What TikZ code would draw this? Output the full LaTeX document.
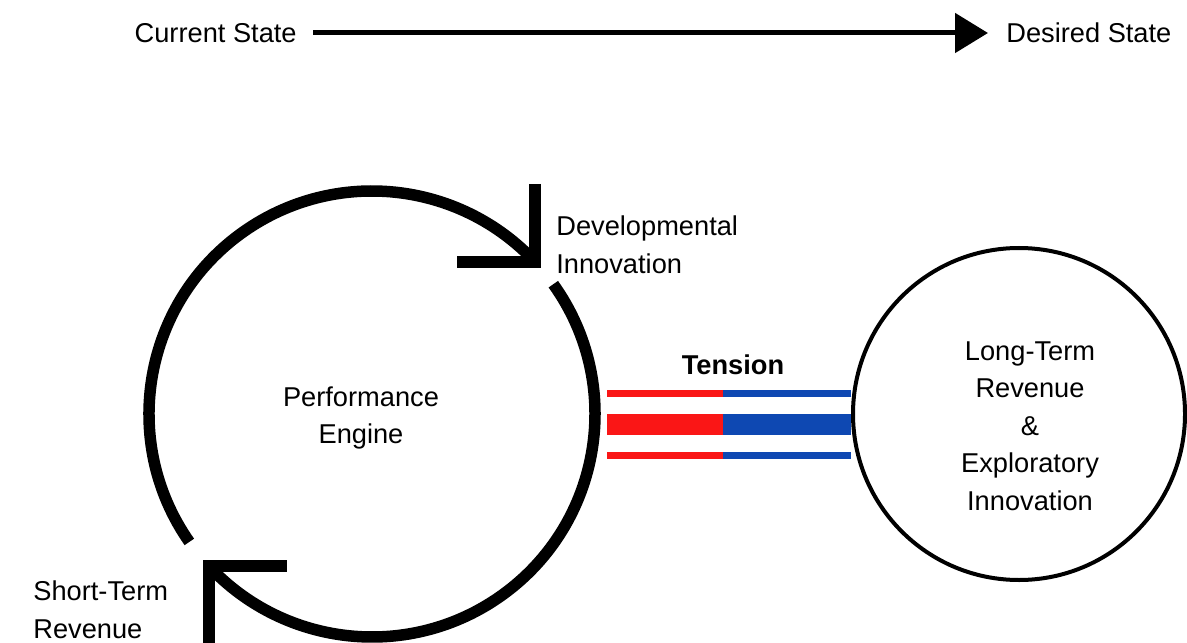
\documentclass[tikz,border=0pt]{standalone}
\usepackage{fontspec}
\setmainfont{Liberation Sans}
\usetikzlibrary{arrows.meta, positioning, calc}
\definecolor{tensionRed}{RGB}{250, 22, 22}
\definecolor{tensionBlue}{RGB}{14, 72, 178}
\tikzset{
  plainLabel/.style={
    inner sep=0pt,
    font=\fontsize{15.5}{21.5}\selectfont
  },
  stateArrow/.style={
    -{Triangle[length=0.66cm, width=0.78cm]},
    line width=0.1cm,
    draw=black
  },
  ringArc/.style={
    draw=black,
    line width=0.23cm,
    line cap=butt
  },
  ringHead/.style={
    draw=black,
    line width=0.23cm,
    line join=miter,
    line cap=butt
  },
  goalCircle/.style={
    draw=black,
    circle,
    line width=0.08cm,
    minimum size=6.64cm,
    inner sep=0pt
  }
}

\begin{document}
\begin{tikzpicture}
  \useasboundingbox (0,0) rectangle (23.74,12.84);
  % Direction of change
  \node[plainLabel, anchor=east, inner xsep=0.32cm] (current) at (6.26,12.18) {Current State};
  \node[plainLabel, anchor=west, inner xsep=0.36cm] (desired) at (19.76,12.18) {Desired State};
  \draw[stateArrow] (current) -- (desired);

  % Performance engine loop
  \coordinate (hub) at (7.44,4.56);
  \draw[ringArc] ($(hub)+(215:4.46)$) arc[start angle=215, end angle=43, radius=4.46] coordinate (devCorner);
  \draw[ringArc] ($(hub)+(35.6:4.46)$) arc[start angle=35.6, end angle=-137, radius=4.46] coordinate (shortCorner);
  \draw[ringHead] ([yshift=1.56cm]devCorner) -- (devCorner) -- ([xshift=-1.56cm]devCorner);
  \draw[ringHead] ([xshift=1.56cm]shortCorner) -- (shortCorner) -- ([yshift=-1.7cm]shortCorner);
  \node[plainLabel, align=center] (engine) at (7.22,4.48) {Performance\\Engine};
  \node[plainLabel, align=left, anchor=west] (devInno) at (11.12,7.94) {Developmental\\Innovation};
  \node[plainLabel, align=left, anchor=west] (shortRev) at (0.66,0.64) {Short-Term\\Revenue};

  % Tension bars
  \foreach \lo/\hi in {4.90/5.04, 4.14/4.56, 3.66/3.80} {
    \fill[tensionRed] (12.14,\lo) rectangle (14.46,\hi);
    \fill[tensionBlue] (14.46,\lo) rectangle (17.02,\hi);
  }
  \node[plainLabel, font=\fontsize{15.5}{21.5}\selectfont\bfseries] (tension) at (14.66,5.54) {Tension};

  % Long-term goal
  \node[goalCircle] (goal) at (20.38,4.56) {};
  \node[plainLabel, align=center, font=\fontsize{15.5}{21.3}\selectfont] (goalText) at (20.6,4.32)
    {Long-Term\\Revenue\\\&\\Exploratory\\Innovation};
\end{tikzpicture}
\end{document}
